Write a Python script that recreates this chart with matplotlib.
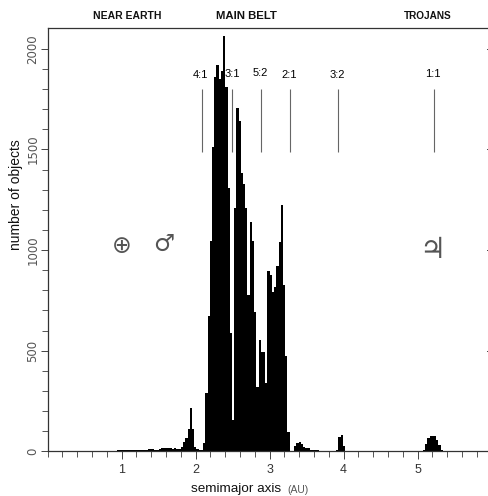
import numpy as np
import matplotlib
matplotlib.use('Agg')
import matplotlib.pyplot as plt

# histogram counts, bins are 0.03 AU wide
bin_width = 0.03
near_earth_start = 0.66
near_earth = [2, 2, 2, 0, 0, 3, 3, 0, 3, 5, 5, 6, 5, 5, 4,
              6, 8, 8, 6, 6, 6, 6, 6, 10, 10, 12, 8, 8,
              12, 14, 18, 14, 16, 14, 12, 14, 11,
              12, 20, 45, 65, 110, 215, 110, 22, 10, 5, 8]
main_belt_start = 2.10
main_belt = [40, 290, 670, 1045, 1510, 1860, 1920, 1850, 1890, 2065, 1810, 1310, 590,
             155, 1210, 1705, 1640, 1385, 1330, 1210, 777, 1140, 1045, 690, 320,
             555, 495, 495, 340,
             895, 875, 790, 815, 920, 1040, 1225, 825, 475, 97]
outer_start = 3.27
outer = [3, 3, 25, 42, 48, 35, 22, 15, 15, 8, 8, 5, 5, 3, 3, 3, 2, 2, 2, 3, 3, 5, 70, 80, 25]
trojan_start = 5.07
trojans = [5, 36, 65, 78, 75, 75, 56, 32, 7]

# resonances
res_labels = ['4:1', '3:1', '5:2', '2:1', '3:2', '1:1']
res_a = [2.08, 2.495, 2.88, 3.28, 3.93, 5.22]
res_label_a = [2.07, 2.50, 2.87, 3.26, 3.91, 5.21]
res_label_y = [1870, 1875, 1880, 1870, 1872, 1873]

regions = ['NEAR EARTH', 'MAIN BELT', 'TROJANS']
region_a = [1.07, 2.69, 5.14]
region_size = [7.5, 8.2, 7.2]

planets = ['\u2295', '\u2642', '\u2643']
planet_a = [1.0, 1.565, 5.2]
planet_y = [1020, 1028, 1000]
planet_size = [17, 17, 21]

plt.rcParams['font.family'] = ['Liberation Sans', 'DejaVu Sans']

fig = plt.figure(figsize=(4.89, 4.96), dpi=100)
ax = fig.add_axes([47.7 / 489, 1 - 451.3 / 496, 1 - 47.7 / 489, (451.3 - 28.3) / 496])

for start, counts in [(near_earth_start, near_earth), (main_belt_start, main_belt),
                      (outer_start, outer), (trojan_start, trojans)]:
    left = start + bin_width * np.arange(len(counts))
    ax.bar(left, counts, width=bin_width, align='edge', color='black', linewidth=0)

ax.set_xlim(0, 5.964)
ax.set_ylim(0, 2102)

# resonance marks
ax.vlines(res_a, 1487, 1800, color='#666666', linewidth=0.8)
for name, a, y in zip(res_labels, res_label_a, res_label_y):
    ax.text(a, y, name, ha='center', va='center', fontsize=8, color='black')

for name, a, s in zip(regions, region_a, region_size):
    ax.text(a, 2165, name, ha='center', va='center', fontsize=s,
            fontweight='bold', color='#111111', clip_on=False)

for sym, a, y, s in zip(planets, planet_a, planet_y, planet_size):
    ax.text(a, y, sym, ha='center', va='center', fontsize=s, color='#555555',
            family='DejaVu Sans')

for side in ['top', 'left', 'bottom']:
    ax.spines[side].set_color('#333333')
    ax.spines[side].set_linewidth(0.9)
ax.spines['right'].set_visible(False)

ax.set_xticks([1, 2, 3, 4, 5])
ax.set_xticks(np.arange(0, 5.9, 0.2), minor=True)
ax.set_yticks([0, 500, 1000, 1500, 2000])
ax.set_yticks(np.arange(0, 2100, 100), minor=True)
ax.tick_params(axis='x', which='major', length=6, width=0.7, color='#444444',
               labelsize=9, labelcolor='#333333', pad=3)
ax.tick_params(axis='x', which='minor', length=4, width=0.7, color='#555555')
ax.tick_params(axis='y', which='major', length=5, width=0.7, color='#444444', pad=1)
ax.tick_params(axis='y', which='minor', length=4, width=0.7, color='#555555')
for lab in ax.get_yticklabels():
    lab.set_rotation(90)
    lab.set_va('center')
    lab.set_family('DejaVu Sans')
    lab.set_fontsize(8.5)
    lab.set_color('#555555')

# small marks on the right edge
for y in [500, 1000, 1500, 2000]:
    ax.plot([1, 0.9955], [y, y], transform=ax.get_yaxis_transform(), color='#444444',
            linewidth=0.7, clip_on=False)

fig.text(236 / 489, 1 - 489 / 496, 'semimajor axis', ha='center', va='center', fontsize=9.7,
         color='#111111')
fig.text(298 / 489, 1 - 490 / 496, '(AU)', ha='center', va='center', fontsize=7.5, color='#555555')
fig.text(16 / 489, 1 - 195 / 496, 'number of objects', rotation=90, ha='center', va='center',
         fontsize=10, color='#111111')

plt.savefig('out.png', dpi=100)
